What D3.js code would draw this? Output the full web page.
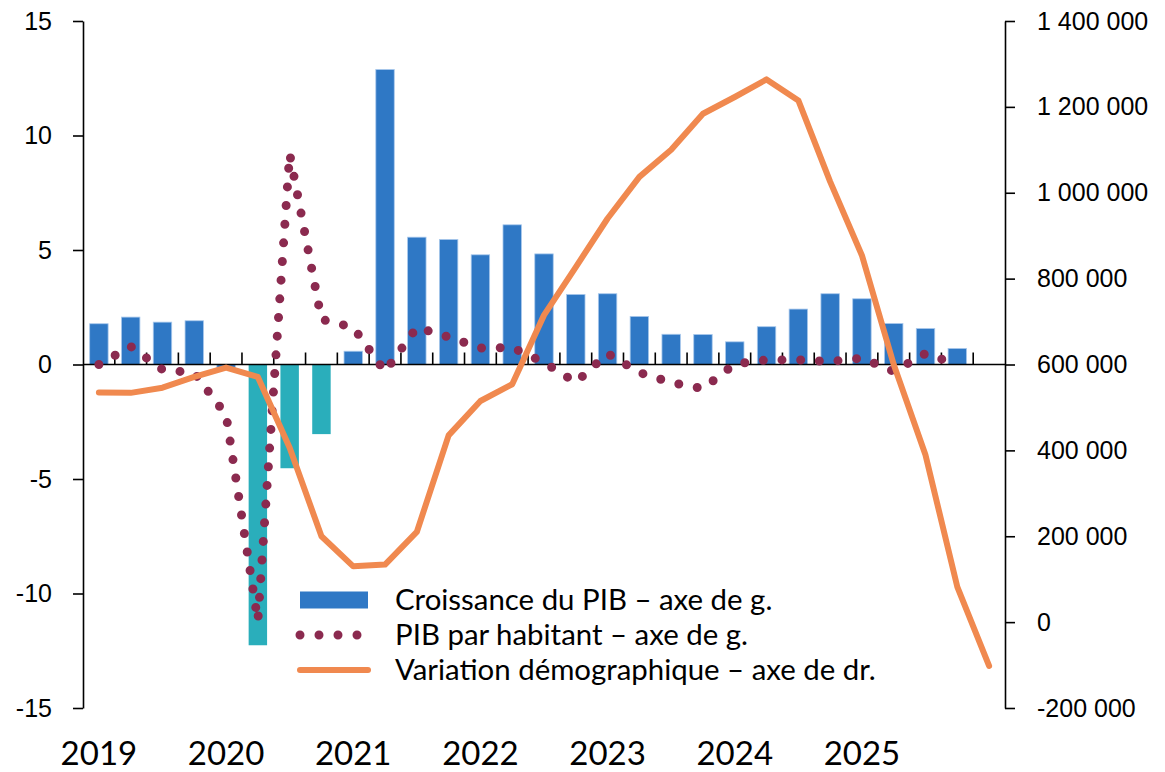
<!DOCTYPE html>
<html>
<head>
<meta charset="utf-8">
<script src="https://cdn.jsdelivr.net/npm/d3@7"></script>
<style>
  body { margin: 0; background: #fff; }
  svg { font-family: Lato, sans-serif; }
</style>
</head>
<body>
<div id="chart"></div>
<script>
const categories = [
  '2019 T1', '2019 T2', '2019 T3', '2019 T4',
  '2020 T1', '2020 T2', '2020 T3', '2020 T4',
  '2021 T1', '2021 T2', '2021 T3', '2021 T4',
  '2022 T1', '2022 T2', '2022 T3', '2022 T4',
  '2023 T1', '2023 T2', '2023 T3', '2023 T4',
  '2024 T1', '2024 T2', '2024 T3', '2024 T4',
  '2025 T1', '2025 T2', '2025 T3', '2025 T4',
  '2026 T1',
];

// croissance du PIB (%), axe de gauche
const gdpGrowth = [
  1.78, 2.07, 1.85, 1.91,
  -0.15, -12.26, -4.53, -3.04,
  0.58, 12.88, 5.56, 5.46,
  4.79, 6.1, 4.83, 3.06,
  3.09, 2.1, 1.32, 1.31,
  0.99, 1.65, 2.42, 3.09,
  2.87, 1.79, 1.57, 0.7,
  null,
];

// trimestres de la pandémie, couleur différente
const covidQuarters = ['2020 T2', '2020 T3', '2020 T4'];

// PIB par habitant (%), axe de gauche
const gdpPerCapita = [
  0.0, 0.79, -0.22, -0.37,
  -2.2, -11.2, 9.2, 1.97,
  1.62, -0.31, 1.62, 1.2,
  0.72, 0.74, 0.09, -0.78,
  0.48, -0.35, -0.79, -1.05,
  0.02, 0.2, 0.2, 0.13,
  0.28, -0.3, 0.48, 0.0,
  null,
];

// variation démographique, axe de droite
const popChange = [
  535000, 534000, 546000, 571000,
  593000, 571000, 406000, 200000,
  130000, 134000, 210000, 435000,
  515000, 554000, 715000, 827000,
  940000, 1037000, 1100000, 1184000,
  1223000, 1264000, 1215000, 1026000,
  854000, 600000, 389000, 82000,
  -102000,
];

const leftTicks = [-15, -10, -5, 0, 5, 10, 15];
const rightTicks = [-200000, 0, 200000, 400000, 600000, 800000, 1000000, 1200000, 1400000];

const legendItems = [
  'Croissance du PIB – axe de g.',
  'PIB par habitant – axe de g.',
  'Variation démographique – axe de dr.',
];

const blue = '#2f78c5',
  teal = '#2aaebb',
  maroon = '#8b2a4f',
  orange = '#f0894f';

const width = 1165,
  height = 772,
  plotLeft = 83,
  plotRight = 1005,
  plotTop = 21,
  plotBottom = 708;

const svg = d3
  .select('#chart')
  .append('svg')
  .attr('width', width)
  .attr('height', height);

const x = d3
  .scaleBand()
  .domain(categories)
  .range([plotLeft, plotRight])
  .paddingInner(0.42)
  .paddingOuter(0.21);

const yL = d3.scaleLinear().domain([-15, 15]).range([plotBottom, plotTop]);
const yR = d3.scaleLinear().domain([-200000, 1400000]).range([plotBottom, plotTop]);

const cx = (c) => x(c) + x.bandwidth() / 2;

const rows = categories.map((c, i) => ({
  cat: c,
  gdp: gdpGrowth[i],
  pc: gdpPerCapita[i],
  pop: popChange[i],
}));

// barres
svg
  .append('g')
  .selectAll('rect')
  .data(rows.filter((d) => d.gdp != null))
  .enter()
  .append('rect')
  .attr('x', (d) => x(d.cat))
  .attr('width', x.bandwidth())
  .attr('y', (d) => yL(Math.max(0, d.gdp)))
  .attr('height', (d) => Math.abs(yL(d.gdp) - yL(0)))
  .attr('fill', (d) => (covidQuarters.includes(d.cat) ? teal : blue))
  .attr('stroke', (d) => (covidQuarters.includes(d.cat) ? 'none' : '#a8c8ec'))
  .attr('stroke-width', 0.8);

// axe gauche
const fmtL = (d) => String(d);
svg
  .append('g')
  .attr('transform', `translate(${plotLeft},0)`)
  .call(
    d3.axisLeft(yL).tickValues(leftTicks).tickFormat(fmtL).tickSizeInner(10).tickSizeOuter(0).tickPadding(21)
  )
  .call((g) => g.selectAll('line, path').attr('stroke', '#000').attr('stroke-width', 1.6))
  .call((g) => g.selectAll('text').attr('font-size', 25).attr('fill', '#000'));

// axe droit
const frLocale = d3.formatLocale({
  decimal: ',',
  thousands: '\u00a0',
  grouping: [3],
  currency: ['', ''],
  minus: '-',
});
svg
  .append('g')
  .attr('transform', `translate(${plotRight},0)`)
  .call(
    d3
      .axisRight(yR)
      .tickValues(rightTicks)
      .tickFormat(frLocale.format(','))
      .tickSizeInner(10)
      .tickSizeOuter(0)
      .tickPadding(22)
  )
  .call((g) => g.selectAll('line, path').attr('stroke', '#000').attr('stroke-width', 1.6))
  .call((g) => g.selectAll('text').attr('font-size', 25).attr('fill', '#000'));

// ligne du zéro et graduations des trimestres
const zeroY = yL(0);
const gap = (x.step() - x.bandwidth()) / 2;
const zero = svg.append('g');
zero
  .append('line')
  .attr('x1', plotLeft)
  .attr('x2', plotRight)
  .attr('y1', zeroY)
  .attr('y2', zeroY)
  .attr('stroke', '#000')
  .attr('stroke-width', 1.6);
zero
  .selectAll('.qtick')
  .data(categories.slice(1))
  .enter()
  .append('line')
  .attr('class', 'qtick')
  .attr('x1', (c) => x(c) - gap)
  .attr('x2', (c) => x(c) - gap)
  .attr('y1', zeroY)
  .attr('y2', zeroY - 12)
  .attr('stroke', '#000')
  .attr('stroke-width', 1.6);

// années
svg
  .append('g')
  .selectAll('text')
  .data(categories.filter((c) => c.endsWith('T1') && !c.startsWith('2026')))
  .enter()
  .append('text')
  .attr('x', cx)
  .attr('y', 765)
  .attr('text-anchor', 'middle')
  .attr('font-size', 33)
  .text((c) => c.slice(0, 4));

// PIB par habitant, pointillé
const pcLine = d3
  .line()
  .defined((d) => d.pc != null)
  .x((d) => cx(d.cat))
  .y((d) => yL(d.pc));

svg
  .append('path')
  .datum(rows)
  .attr('d', pcLine)
  .attr('fill', 'none')
  .attr('stroke', maroon)
  .attr('stroke-width', 9)
  .attr('stroke-linecap', 'round')
  .attr('stroke-dasharray', '0 18.7');

// variation démographique
const popLine = d3
  .line()
  .x((d) => cx(d.cat))
  .y((d) => yR(d.pop));

svg
  .append('path')
  .datum(rows)
  .attr('d', popLine)
  .attr('fill', 'none')
  .attr('stroke', orange)
  .attr('stroke-width', 6)
  .attr('stroke-linejoin', 'round')
  .attr('stroke-linecap', 'round');

// légende
const legend = svg.append('g').attr('transform', 'translate(300,600)');
const rowH = 35;

legend
  .append('rect')
  .attr('x', 0)
  .attr('y', -8.5)
  .attr('width', 68)
  .attr('height', 17)
  .attr('fill', blue);

legend
  .append('line')
  .attr('x1', 0)
  .attr('x2', 58)
  .attr('y1', rowH)
  .attr('y2', rowH)
  .attr('stroke', maroon)
  .attr('stroke-width', 9)
  .attr('stroke-linecap', 'round')
  .attr('stroke-dasharray', '0 19');

legend
  .append('line')
  .attr('x1', 0)
  .attr('x2', 68)
  .attr('y1', rowH * 2)
  .attr('y2', rowH * 2)
  .attr('stroke', orange)
  .attr('stroke-width', 6)
  .attr('stroke-linecap', 'round');

legend
  .selectAll('text')
  .data(legendItems)
  .enter()
  .append('text')
  .attr('x', 95)
  .attr('y', (d, i) => i * rowH)
  .attr('dy', '0.35em')
  .attr('font-size', 29.4)
  .text((d) => d);
</script>
</body>
</html>
